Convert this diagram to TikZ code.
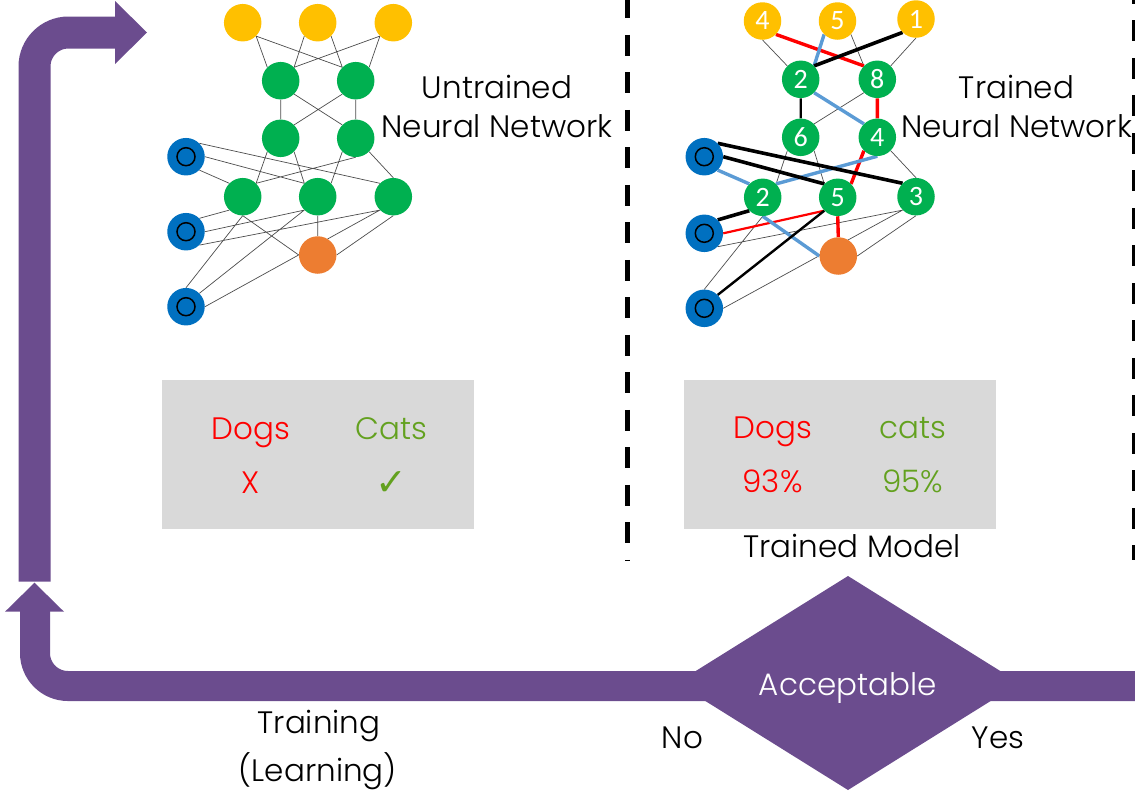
\documentclass[tikz,border=0pt]{standalone}
\usepackage{fontspec}
\setmainfont{Poppins}[UprightFont=* Light]
\newfontfamily\digitfont{Carlito}
\newfontfamily\symfont{DejaVu Sans}
\usetikzlibrary{backgrounds}

\definecolor{flowpurple}{HTML}{6B4C8E}
\definecolor{nyellow}{HTML}{FFC000}
\definecolor{ngreen}{HTML}{00B050}
\definecolor{nblue}{HTML}{0070C0}
\definecolor{norange}{HTML}{ED7D31}
\definecolor{wblue}{HTML}{5B9BD5}
\definecolor{wred}{HTML}{FF0000}
\definecolor{boxgray}{HTML}{D9D9D9}
\definecolor{okgreen}{HTML}{63A11F}

\begin{document}
\begin{tikzpicture}[x=1pt,y=-1pt,
  neuron/.style={circle, inner sep=0pt, minimum size=37.5pt, text=white,
    font=\digitfont\fontsize{28}{28}\selectfont},
  yn/.style={neuron, fill=nyellow},
  gn/.style={neuron, fill=ngreen},
  on/.style={neuron, fill=norange},
  bn/.style={neuron, fill=nblue,
    path picture={\draw[line width=1.5pt] (path picture bounding box.center) circle (9pt);}},
  thin/.style={draw=black!70, line width=0.7pt},
  wblack/.style={draw=black, line width=3.6pt},
  wblackmid/.style={draw=black, line width=2.4pt},
  wredthick/.style={draw=wred, line width=3.4pt},
  wredmid/.style={draw=wred, line width=2.2pt},
  wbluethick/.style={draw=wblue, line width=3.4pt},
  txt/.style={inner sep=0pt, anchor=base, font=\fontsize{31}{38}\selectfont},
  sep/.style={draw=black, line width=4.5pt, dash pattern=on 21pt off 16.5pt},
  flow/.style={draw=flowpurple},
]
\useasboundingbox (0,0) rectangle (1135,793);

% ---------- untrained network ----------
\node[yn] (uy1) at (242.7,22.7) {};
\node[yn] (uy2) at (317.7,22.7) {};
\node[yn] (uy3) at (393.3,22.7) {};
\node[gn] (ug1) at (280.7,80.7) {};
\node[gn] (ug2) at (355.7,80.7) {};
\node[gn] (ug3) at (280.7,138.3) {};
\node[gn] (ug4) at (355.7,138.3) {};
\node[gn] (ug5) at (242.7,196.7) {};
\node[gn] (ug6) at (317.7,196.7) {};
\node[gn] (ug7) at (393.3,196.7) {};
\node[on] (uo)  at (317.7,255) {};
\node[bn] (ub1) at (186,156.7) {};
\node[bn] (ub2) at (186,231.7) {};
\node[bn] (ub3) at (186,306.7) {};

% ---------- trained network ----------
\node[yn] (ty1) at (762.5,21) {4};
\node[yn] (ty2) at (837.5,21) {5};
\node[yn] (ty3) at (916,19) {1};
\node[gn] (tg1) at (800.7,79.3) {2};
\node[gn] (tg2) at (877.3,79.3) {8};
\node[gn] (tg3) at (800.7,137.3) {6};
\node[gn] (tg4) at (877.3,137.3) {4};
\node[gn] (tg5) at (762.7,197.3) {2};
\node[gn] (tg6) at (837.7,197.3) {5};
\node[gn] (tg7) at (916,196.7) {3};
\node[on] (to)  at (838.3,256) {};
\node[bn] (tb1) at (704.3,156.7) {};
\node[bn] (tb2) at (704.3,233.3) {};
\node[bn] (tb3) at (704.3,308.3) {};

\begin{pgfonlayer}{background}
  % untrained weights
  \path[thin] (uy1.south east) -- (ug1.north west)
              (uy1.south east) -- (ug2.north west)
              (uy2.south west) -- (ug1.north east)
              (uy2.south east) -- (ug2.north west)
              (uy3.south west) -- (ug1.north east)
              (uy3.south west) -- (ug2.north east)
              (ug1.south) -- (ug3.north)
              (ug1.south east) -- (ug4.north west)
              (ug2.south west) -- (ug3.north east)
              (ug2.south) -- (ug4.north)
              (ug3.south west) -- (ug5.north east)
              (ug3.south east) -- (ug6.north west)
              (ug4.south) -- (ug5.north east)
              (ug4.south west) -- (ug6.north east)
              (ug4.south east) -- (ug7.north)
              (ub1.south east) -- (ug5.north west)
              (ub1.east) -- (ug6.north west)
              (ub1.north east) -- (ug7.north west)
              (ub2.north east) -- (ug5.south west)
              (ub2.east) -- (ug6.south west)
              (ub2.south east) -- (ug7.south west)
              (ub3.north) -- (ug5.south)
              (ub3.north east) -- (ug6.south west)
              (ub3.east) -- (ug7.south west)
              (ug5.south) -- (uo.west)
              (ug6.south) -- (uo.north)
              (ug7.south) -- (uo.east);

  % trained weights
  \path[thin] (ty1.south) -- (tg1.north west)
              (ty2.south east) -- (tg2.north west)
              (ty3.south) -- (tg2.north east)
              (tg2.south west) -- (tg3.north east)
              (tg3.south west) -- (tg5.north east)
              (tg3.south east) -- (tg6.north west)
              (tg4.south east) -- (tg7.north)
              (tb2.south east) -- (tg7.south west)
              (tb3.north) -- (tg5.south)
              (tb3.east) -- (tg7.south west)
              (tg7.south) -- (to.east);
  \path[wredthick] (ty1.south east) -- (tg2.north west)
                   (tg2.south) -- (tg4.north)
                   (tg4.south west) -- (tg6.north east)
                   (tg6.south) -- (to.north);
  \path[wredmid] (tb2.east) -- (tg6.south west);
  \path[wbluethick] (ty2.south west) -- (tg1.north east)
                    (tg1.south east) -- (tg4.north west)
                    (tg4.south) -- (tg5.north east)
                    (tb1.south east) -- (tg5.north west)
                    (tg5.south) -- (to.west);
  \path[wblack] (ty3.south west) -- (tg1.north east)
                (tb1.north east) -- (tg7.north west)
                (tb1.east) -- (tg6.north west)
                (tb2.north east) -- (tg5.south west);
  \path[wblackmid] (tg1.south) -- (tg3.north)
                   (tb3.north east) -- (tg6.south west);
\end{pgfonlayer}

% network captions
\node[txt] (ucap1) at (497,98) {Untrained};
\node[txt] (ucap2) at (497,137.5) {Neural Network};
\node[txt] (tcap1) at (1016.5,98) {Trained};
\node[txt] (tcap2) at (1016.5,137.5) {Neural Network};

% result panels
\fill[boxgray] (161.7,380) rectangle (474,529.3);
\node[txt, text=wred] (udog) at (250.8,439.3) {Dogs};
\node[txt, text=okgreen] (ucat) at (391.7,439.3) {Cats};
\node[txt, text=wred] (uno) at (250.3,493.3) {X};
\node[txt, text=okgreen, font=\symfont\bfseries\fontsize{38}{38}\selectfont] (uyes) at (391.7,495) {✓};

\fill[boxgray] (684,380) rectangle (996,529.3);
\node[txt, text=wred] (tdog) at (773,438.5) {Dogs};
\node[txt, text=okgreen] (tcat) at (913.3,438.5) {cats};
\node[txt, text=wred] (tdogp) at (772.5,492.7) {93\%};
\node[txt, text=okgreen] (tcatp) at (912.5,492.7) {95\%};
\node[txt] (model) at (852,557.3) {Trained Model};

% stage separators
\path[sep] (627.3,-2.7) -- (627.3,560.7);
\path[sep] (1134,-17.5) -- (1134,560);

% training loop
\path[flow, line width=32pt, rounded corners=34pt]
  (34.5,581.7) -- (34.5,32.5) -- (116,32.5);
\fill[flowpurple] (115,1) -- (147,32.5) -- (115,64) -- cycle;
\fill[flowpurple] (5,611.7) -- (34.5,582.7) -- (64,611.7) -- cycle;
\path[flow, line width=30pt, rounded corners=33pt]
  (35,611) -- (35,686) -- (1140,686);
\fill[flowpurple] (676.5,683) -- (848,576) -- (1019.5,683) -- (848,790) -- cycle;
\node[txt, text=white] (accept) at (847.7,695) {Acceptable};
\node[txt] (no) at (682.5,748.3) {No};
\node[txt] (yes) at (998,748.3) {Yes};
\node[txt] (train1) at (319,733.3) {Training};
\node[txt] (train2) at (317.8,781.5) {(Learning)};
\end{tikzpicture}
\end{document}
